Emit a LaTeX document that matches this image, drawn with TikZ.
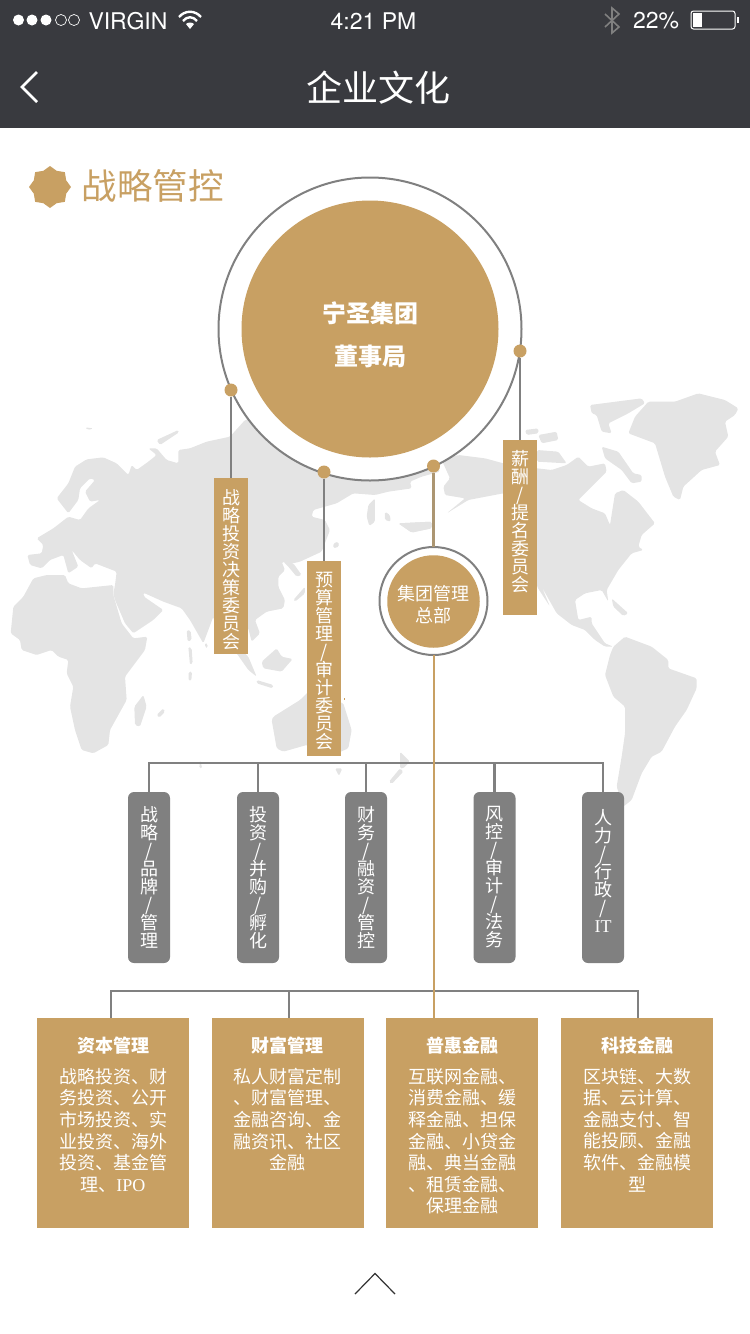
\documentclass[tikz,border=0pt]{standalone}
\usepackage{fontspec}
\setmainfont{Noto Sans CJK SC}
\newfontfamily\statusfont{TeX Gyre Heros}
\newfontfamily\latinfont{Liberation Serif}
\usepackage{tikz}
\usetikzlibrary{positioning, shapes.geometric}
\definecolor{gold}{HTML}{C8A063}
\definecolor{barcol}{HTML}{393A3F}
\definecolor{linecol}{HTML}{808080}
\definecolor{mapcol}{HTML}{E4E4E4}
\definecolor{stemcol}{HTML}{AC9672}
\lineskiplimit=-50pt
\newcommand{\sizefont}[2]{\fontsize{#1pt}{#2pt}\selectfont}
\newcommand{\lift}[1]{\rule{0pt}{#1pt}}

\begin{document}
\begin{tikzpicture}[x=1pt, y=-1pt, semithick, node distance=174.67pt]
\tikzstyle{land}=[fill=mapcol, rounded corners=1.5pt]
\tikzstyle{plain}=[inner sep=0pt, outer sep=0pt]
\tikzstyle{statustext}=[plain, text=white, font=\statusfont\sizefont{23}{23}]
\tikzstyle{ring}=[circle, plain, draw=linecol, line width=2pt, fill=white]
\tikzstyle{disc}=[circle, plain, fill=gold]
\tikzstyle{pin}=[circle, plain, fill=gold, minimum size=13pt]
\tikzstyle{stem}=[linecol, line width=2.4pt]
\tikzstyle{hanger}=[linecol, line width=2.8pt]
\tikzstyle{committee}=[plain, fill=gold, text=white, minimum width=34pt, align=center, anchor=north, font=\sizefont{18}{18}]
\tikzstyle{staff}=[plain, fill=linecol, text=white, minimum width=42pt, minimum height=171pt, rounded corners=6pt, align=center, anchor=north, font=\sizefont{18}{18}]
\tikzstyle{finbox}=[plain, fill=gold, minimum width=152pt, minimum height=210pt, anchor=north]
\tikzstyle{fincap}=[plain, text=white, font=\bfseries\sizefont{18}{18}]
\tikzstyle{finbody}=[plain, text=white, align=center, font=\sizefont{18}{21.6}]
\useasboundingbox (0,0) rectangle (750,1334);

% header bar
\fill[barcol] (0,0) rectangle (750,128);
\foreach \px in {18.5,32,46} \fill[white] (\px,20) circle (5.5pt);
\foreach \px in {61,74} \draw[white, line width=.7pt] (\px,20) circle (5.5pt);
\node[statustext, anchor=west] (carrier) at (88.5,21) {VIRGIN};
\draw[white, line width=2.4pt] (179,17) .. controls (185,10) and (195,10) .. (201,17);
\draw[white, line width=2.4pt] (183,21) .. controls (187,16) and (193,16) .. (197,21);
\fill[white] (186,24) .. controls (188,22) and (192,22) .. (194,24) -- (190,29) -- cycle;
\node[statustext] (clock) at (373.5,21) {4:21 PM};
\draw[gray, line width=1.6pt] (605,14) -- (619,27) -- (612,33) -- (612,8) -- (619,14) -- (605,27);
\node[statustext, anchor=west] (percent) at (633,21) {22\%};
\draw[white, line width=1pt, rounded corners=2.5pt] (691,11) rectangle (735,29);
\fill[white] (693,13) rectangle (702,27);
\fill[white] (737,17) rectangle (739,23);
\draw[white, line width=2.5pt] (37,72) -- (22,87) -- (37,102);
\node[plain, text=white, font=\sizefont{36}{36}] (pagetitle) at (378,88) {企业文化};

% section title
\node[star, star points=8, star point ratio=1.2, plain, fill=gold, minimum size=42pt] (badge) at (50,187) {};
\node[plain, text=gold, font=\sizefont{35.5}{36}, anchor=west] (section) at (81.5,186) {战略管控};

% map, old world
\begin{scope}[shift={(0pt,-420pt)}, x=.33333pt, y=-.33333pt]
\path[land] (82,405) -- (125,400) -- (130,375) -- (110,355) -- (160,325) -- (205,290) -- (240,300) -- (265,265) -- (300,240) -- (270,245) -- (255,215) -- (285,180) -- (270,175) -- (240,205) -- (235,240) -- (205,280) -- (170,235) -- (205,190) -- (225,140) -- (260,118) -- (310,112) -- (350,130) -- (385,165) -- (395,135) -- (410,150) -- (445,125) -- (470,105) -- (445,85) -- (470,85) -- (500,120) -- (535,130) -- (535,90) -- (570,85) -- (620,65) -- (690,50) -- (735,0) -- (770,-10) -- (1250,-10) -- (1320,155) -- (1265,170) -- (1230,185) -- (1235,205) -- (1165,215) -- (1125,225) -- (1060,220) -- (1010,250) -- (940,270) -- (935,290) -- (975,300) -- (990,330) -- (965,395) -- (900,425) -- (870,432) -- (845,425) -- (855,450) -- (835,470) -- (835,500) -- (855,540) -- (850,565) -- (800,575) -- (765,600) -- (780,640) -- (755,665) -- (745,625) -- (720,600) -- (700,640) -- (715,680) -- (745,710) -- (770,770) -- (745,750) -- (710,700) -- (660,680) -- (640,590) -- (610,670) -- (570,600) -- (545,565) -- (490,545) -- (430,518) -- (432,530) -- (490,570) -- (460,600) -- (400,640) -- (375,610) -- (345,540) -- (340,520) -- (345,495) -- (350,455) -- (285,430) -- (275,445) -- (240,420) -- (215,390) -- (235,440) -- (205,460) -- (190,405) -- (150,420) -- (125,445) -- (90,435) -- cycle;
\path[land] (340,525) -- (365,610) -- (400,655) -- (442,650) -- (435,690) -- (375,770) -- (380,840) -- (330,930) -- (325,975) -- (280,1000) -- (245,990) -- (225,930) -- (210,860) -- (220,800) -- (200,760) -- (205,720) -- (175,710) -- (155,690) -- (110,705) -- (65,690) -- (60,660) -- (32,640) -- (40,560) -- (70,530) -- (100,475) -- (140,465) -- (195,465) -- (205,490) -- (245,505) -- (340,495) -- cycle;
\path[land] (430,825) -- (440,860) -- (420,920) -- (405,915) -- (403,860) -- cycle;
\path[land] (470,885) -- (490,865) -- (495,875) -- (478,893) -- cycle;
\path[land] (560,630) -- (572,632) -- (575,660) -- (563,665) -- cycle;
\path[land] (565,680) -- (575,685) -- (578,730) -- (570,735) -- cycle;
\path[land] (566,755) -- (576,755) -- (574,782) -- (566,782) -- cycle;
\path[land] (615,668) -- (623,672) -- (622,685) -- (616,682) -- cycle;
\path[land] (830,685) -- (845,710) -- (878,717) -- (845,755) -- (790,745) -- (785,725) -- cycle;
\path[land] (770,780) -- (820,795) -- (818,805) -- (770,790) -- cycle;
\path[land] (880,540) -- (915,500) -- (915,520) -- (885,545) -- cycle;
\path[land] (850,425) -- (880,430) -- (905,465) -- (890,470) -- (865,440) -- cycle;
\path[land] (1000,370) -- (1015,365) -- (1017,380) -- (1000,385) -- cycle;
\path[land] (820,890) -- (900,840) -- (925,815) -- (1030,850) -- (1055,930) -- (1045,985) -- (1000,1005) -- (920,975) -- (850,995) -- (830,985) -- (815,900) -- cycle;
\path[land] (600,1020) -- (607,1045) -- (598,1045) -- cycle;
\path[land] (1005,1045) -- (1027,1045) -- (1017,1068) -- cycle;
\path[land] (255,22) -- (280,25) -- (265,30) -- cycle;
\path[land] (470,60) -- (535,30) -- (537,37) -- (480,75) -- cycle;
\path[land] (1105,255) -- (1125,235) -- (1125,305) -- (1108,318) -- (1100,290) -- cycle;
\path[land] (1155,275) -- (1170,285) -- (1172,305) -- (1155,300) -- cycle;
\path[land] (1195,310) -- (1295,305) -- (1295,325) -- (1235,338) -- cycle;
\end{scope}

% map, new world
\begin{scope}[shift={(375pt,-380pt)}, x=.33333pt, y=-.33333pt]
\path[land] (200,240) -- (250,225) -- (330,235) -- (385,250) -- (486,265) -- (530,270) -- (575,255) -- (610,230) -- (640,260) -- (690,250) -- (695,275) -- (660,310) -- (610,360) -- (650,385) -- (690,400) -- (705,435) -- (720,340) -- (745,330) -- (790,365) -- (840,430) -- (800,465) -- (790,500) -- (805,510) -- (770,520) -- (730,570) -- (695,630) -- (700,665) -- (680,630) -- (630,640) -- (600,660) -- (610,720) -- (650,710) -- (650,730) -- (670,760) -- (690,790) -- (715,800) -- (690,800) -- (660,780) -- (630,750) -- (590,735) -- (545,700) -- (500,620) -- (525,680) -- (486,620) -- (486,340) -- (385,340) -- (280,360) -- (215,400) -- (270,355) -- (210,345) -- (205,320) -- (225,295) -- cycle;
\path[land] (710,655) -- (760,700) -- (745,708) -- (715,680) -- cycle;
\path[land] (450,150) -- (490,145) -- (490,160) -- (455,165) -- cycle;
\path[land] (490,165) -- (545,155) -- (550,180) -- (500,190) -- cycle;
\path[land] (486,210) -- (550,215) -- (575,250) -- (486,245) -- cycle;
\path[land] (680,200) -- (730,215) -- (775,280) -- (800,285) -- (800,305) -- (770,310) -- (740,270) -- (690,235) -- cycle;
\path[land] (645,75) -- (800,55) -- (810,70) -- (760,100) -- (700,130) -- (710,160) -- (680,155) -- (665,105) -- (650,100) -- cycle;
\path[land] (780,110) -- (820,65) -- (900,65) -- (970,40) -- (1050,60) -- (1090,85) -- (1080,105) -- (1050,125) -- (1060,170) -- (1020,215) -- (1035,255) -- (980,270) -- (925,320) -- (915,360) -- (895,350) -- (870,290) -- (840,190) -- (760,160) -- cycle;
\path[land] (750,770) -- (830,800) -- (880,840) -- (880,865) -- (965,895) -- (965,925) -- (935,990) -- (900,1040) -- (860,1115) -- (830,1130) -- (800,1180) -- (770,1260) -- (745,1280) -- (725,1220) -- (740,1130) -- (750,1060) -- (750,980) -- (715,950) -- (690,885) -- (705,825) -- (715,800) -- cycle;
\path[land] (75,1115) -- (105,1145) -- (85,1165) -- (75,1165) -- cycle;
\path[land] (75,1165) -- (85,1175) -- (50,1212) -- (42,1205) -- cycle;
\path[land] (70,430) -- (170,425) -- (170,445) -- (110,457) -- cycle;
\end{scope}

% board circle
\node[ring, minimum size=303pt] (boardring) at (370,329) {};
\node[disc, minimum size=257pt] (board) at (370,329) {};
\node[plain, text=white, align=center, font=\bfseries\sizefont{24}{43}] (boardname) at (370,335) {宁圣集团\\董事局};
\node[pin] (pinA) at (231,390) {};
\node[pin] (pinB) at (324,472) {};
\node[pin] (pinC) at (433.5,466) {};
\node[pin] (pinD) at (520,351) {};

% committees
\node[committee, minimum height=176pt] (strategy) at (231,478) {\lift{22}战\\略\\投\\资\\决\\策\\委\\员\\会};
\node[committee, minimum height=195pt] (budget) at (324,561) {\lift{20}预\\算\\管\\理\\/\\审\\计\\委\\员\\会};
\node[committee, minimum height=175pt] (salary) at (520,440) {薪\\酬\\/\\提\\名\\委\\员\\会\\[-4pt]~};
\draw[hanger] (pinA) -- (strategy);
\draw[hanger] (pinB) -- (budget);
\draw[hanger] (pinD) -- (salary);

% head office
\node[ring, minimum size=108pt] (hqring) at (433.5,601) {};
\node[disc, minimum size=92.5pt, text=white, align=center, font=\sizefont{18}{22}] (hq) at (433.5,601.5) {\lift{22}集团管理\\总部};
\draw[stemcol, line width=2.4pt] (pinC) -- (pinC |- hqring.north);

% departments
\coordinate (busA) at (434,763);
\node[staff] (dept1) at (149,792) {战\\略\\/\\品\\牌\\/\\管\\理};
\node[staff] (dept2) at (258,792) {投\\资\\/\\并\\购\\/\\孵\\化};
\node[staff] (dept3) at (366,792) {财\\务\\/\\融\\资\\/\\管\\控};
\node[staff] (dept4) at (494.5,792) {风\\控\\/\\审\\计\\/\\法\\务};
\node[staff] (dept5) at (603,792) {人\\力\\/\\行\\政\\/\\{\latinfont IT}\\[-4pt]~};
\foreach \d in {dept1,dept2,dept3,dept4,dept5}
  \draw[stem] (busA) -| (\d.north);

% business lines
\node[finbox] (fin1) at (113,1018) {};
\node[finbox] (fin2)[right of=fin1] {};
\node[finbox] (fin3)[right of=fin2] {};
\node[finbox] (fin4)[right of=fin3] {};
\node[fincap, below=19pt of fin1.north] (cap1) {资本管理};
\node[fincap, below=19pt of fin2.north] (cap2) {财富管理};
\node[fincap, below=19pt of fin3.north] (cap3) {普惠金融};
\node[fincap, below=19pt of fin4.north] (cap4) {科技金融};
\node[finbody, below=50pt of fin1.north] (body1) {战略投资、财\\务投资、公开\\市场投资、实\\业投资、海外\\投资、基金管\\理、{\latinfont IPO}};
\node[finbody, below=50pt of fin2.north] (body2) {私人财富定制\\、财富管理、\\金融咨询、金\\融资讯、社区\\金融};
\node[finbody, below=50pt of fin3.north] (body3) {互联网金融、\\消费金融、缓\\释金融、担保\\金融、小贷金\\融、典当金融\\、租赁金融、\\保理金融};
\node[finbody, below=50pt of fin4.north] (body4) {区块链、大数\\据、云计算、\\金融支付、智\\能投顾、金融\\软件、金融模\\型};
\coordinate (busB) at (434,991);
\coordinate (dropA) at (111,1018);
\coordinate (dropB) at (289,1018);
\coordinate (dropD) at (638,1018);
\foreach \d in {dropA,dropB,dropD}
  \draw[stem] (busB) -| (\d);
\coordinate (dropC) at (434,1018);
\draw[gold, line width=2.4pt] (hqring.south -| dropC) -- (dropC);

% leftovers
\fill[gold] (343.5,698) rectangle (345,699.5);
\draw[black!80, line width=1.2pt] (355,1294) -- (375,1273.5) -- (395,1294);
\end{tikzpicture}
\end{document}
